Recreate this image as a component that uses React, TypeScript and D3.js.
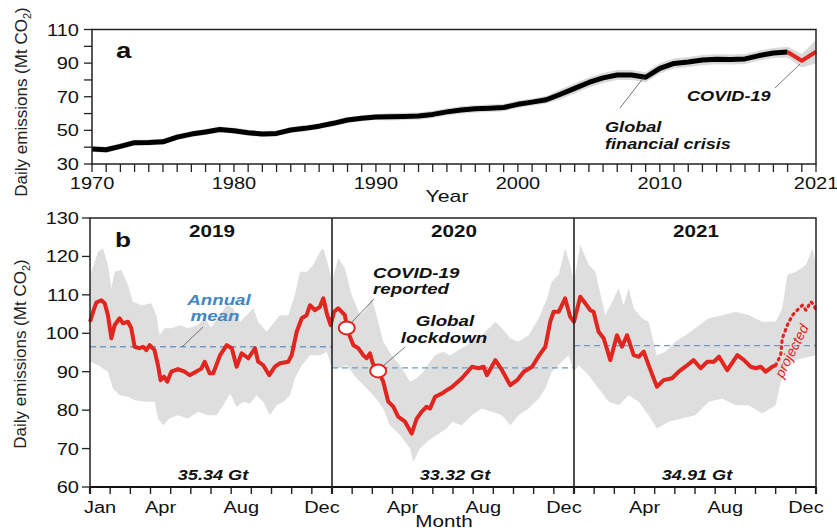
import React from "react";
import * as d3 from "d3";

// ---------- Panel a: annual data ----------
const yearsA = d3.range(1970, 2022);
const emissionsA = [
  38.9, 38.5, 40.5, 42.7, 42.8, 43.2, 46.0, 47.8, 49.0, 50.5,
  49.8, 48.6, 47.9, 48.2, 50.2, 51.2, 52.5, 54.2, 56.2, 57.2,
  58.0, 58.1, 58.3, 58.5, 59.5, 61.0, 62.1, 62.8, 63.2, 63.6,
  65.5, 66.8, 68.2, 71.5, 75.0, 78.5, 81.2, 82.9, 82.9, 81.6,
  86.9, 89.8, 90.7, 91.8, 92.3, 92.2, 92.5, 94.5, 96.0, 96.6,
  91.4, 96.8,
];
const uncertaintyA = [
  1.8, 1.8, 1.8, 1.8, 1.8, 1.8, 1.8, 1.8, 1.8, 1.8,
  1.8, 1.8, 1.8, 1.8, 1.8, 1.8, 1.8, 1.8, 1.8, 1.8,
  1.8, 2.2, 2.2, 2.2, 2.2, 2.2, 2.2, 2.2, 2.2, 2.2,
  2.2, 2.2, 2.2, 3.0, 3.0, 3.0, 3.0, 3.0, 3.0, 3.0,
  3.0, 3.0, 3.0, 3.0, 3.0, 3.0, 3.0, 3.0, 3.0, 3.2,
  4.0, 7.0,
];
const yTicksA = [30, 40, 50, 60, 70, 80, 90, 100, 110];
const yLabelsA = [30, 50, 70, 90, 110];
const xLabelsA = [1970, 1980, 1990, 2000, 2010, 2021];

// ---------- Panel b: daily data (month index from Jan 2019) ----------
const lineMonths = [
  0, 0.15, 0.31, 0.56, 0.73, 0.89, 1.06, 1.22, 1.47, 1.64, 1.88, 2.05, 2.21, 2.46, 2.63, 2.79, 2.96, 3.2, 3.37, 3.5,
  3.67, 3.83, 4.03, 4.36, 4.69, 4.94, 5.19, 5.52, 5.69, 5.93, 6.11, 6.45, 6.78, 7.03, 7.27, 7.52, 7.85, 8.18, 8.34, 8.59,
  8.89, 9.17, 9.42, 9.83, 10.0, 10.25, 10.5, 10.74, 10.91, 11.16, 11.4, 11.57, 11.74, 11.93,
  12.1, 12.31, 12.48, 12.64, 12.75, 12.89, 13.06, 13.31, 13.55, 13.72, 13.88, 14.02, 14.29, 14.54, 14.79, 15.04, 15.28, 15.62, 15.95,
  16.2, 16.45, 16.69, 16.86, 17.11, 17.44, 17.69, 17.95, 18.44, 18.94, 19.27, 19.52, 19.68, 20.1, 20.43, 20.84, 21.18, 21.51, 21.92,
  22.28, 22.58, 22.82, 22.99, 23.24, 23.56, 23.81, 24.0,
  24.31, 24.56, 24.81, 24.97, 25.22, 25.47, 25.8, 26.13, 26.38, 26.63, 26.96, 27.21, 27.46, 27.7, 28.11, 28.44, 28.86, 29.19, 29.52,
  29.93, 30.28, 30.61, 30.94, 31.19, 31.6, 32.1, 32.43, 32.76, 33.01, 33.26, 33.51, 33.84, 34.0,
];
const lineValues = [
  103, 105.5, 108, 108.6, 107.8, 104.7, 98.7, 102.1, 103.9, 102.6, 103.0, 101.3, 96.5, 96.1, 96.5, 95.6, 96.9, 95.6, 91.7, 87.8,
  88.7, 87.4, 90.0, 90.7, 90.0, 89.1, 89.8, 90.8, 92.6, 89.6, 89.6, 94.3, 96.9, 96.1, 91.3, 94.8, 93.5, 96.1, 92.6, 91.7,
  89.1, 91.3, 92.2, 92.6, 94.3, 100.4, 103.9, 104.7, 107.3, 106.0, 106.9, 109.1, 105.2, 102.1,
  105.6, 106.5, 105.6, 104.7, 101.4, 99.1, 96.9, 96.1, 94.3, 93.5, 94.8, 92.2, 90.2, 87.4, 82.2, 80.9, 78.3, 77.0, 73.9,
  77.8, 79.6, 80.9, 80.4, 83.5, 84.3, 85.2, 86.0, 88.3, 91.3, 90.9, 91.3, 89.1, 93.0, 90.4, 86.5, 87.8, 90.0, 91.3,
  94.3, 96.5, 103.0, 105.6, 105.6, 109.1, 104.3, 103.0,
  109.5, 107.8, 106.0, 105.6, 100.4, 98.7, 93.0, 99.5, 96.5, 99.5, 94.3, 93.9, 95.2, 91.7, 86.1, 87.8, 88.3, 90.0, 91.3,
  93.0, 90.9, 92.6, 92.6, 93.9, 90.4, 94.3, 93.0, 91.3, 90.9, 91.3, 90.0, 91.3, 91.7,
];
const projMonths = [34.0, 34.25, 34.33, 34.58, 34.83, 35.16, 35.33, 35.5, 35.75, 35.92, 36.0];
const projValues = [91.7, 94.3, 98.7, 102.1, 104.7, 106.5, 107.3, 106.0, 108.2, 107.3, 105.6];

const upperMonths = [
  0, 0.4, 0.64, 0.89, 1.06, 1.22, 1.55, 1.88, 2.13, 2.54, 3.04, 3.29, 3.45, 3.7, 4.03, 4.45, 4.86, 5.35, 5.69, 6.0,
  6.45, 6.78, 7.1, 7.44, 7.77, 8.1, 8.34, 8.76, 9.01, 9.42, 9.83, 10.16, 10.41, 10.74, 11.07, 11.4, 11.57, 11.81, 12.0,
  12.31, 12.64, 12.97, 13.39, 13.72, 13.97, 14.21, 14.54, 14.96, 15.37, 15.87, 16.2, 16.53, 16.86, 17.11, 17.52, 17.85,
  18.44, 18.94, 19.43, 20.1, 20.43, 20.84, 21.25, 21.75, 22.25, 22.66, 22.9, 23.24, 23.56, 23.81, 24.0,
  24.31, 24.73, 25.06, 25.55, 25.89, 26.22, 26.46, 26.71, 26.96, 27.37, 27.7, 28.11, 28.53, 29.02, 29.52, 30.01,
  30.68, 31.35, 32.01, 32.67, 33.33, 34.0, 34.33, 34.58, 35.0, 35.5, 35.83, 36.0,
];
const upperValues = [
  115, 121.2, 122.1, 117.8, 111.7, 116, 116.5, 112.6, 108.2, 107.3, 107.8, 104.7, 99.5, 101.3, 101.3, 102.1, 101.3, 102.1, 103.9, 101.5,
  104.7, 107.3, 106.5, 103.0, 104.7, 106.5, 103.0, 100.4, 102.1, 104.7, 104.7, 110.0, 116.0, 116.0, 117.8, 121.2, 122.1, 117.8, 113.4,
  119.5, 116.9, 110.0, 104.7, 106.5, 109.1, 104.7, 97.8, 94.3, 91.7, 87.4, 88.3, 90.0, 92.6, 94.3, 95.2, 94.3,
  96.1, 97.8, 99.5, 103.0, 101.3, 98.7, 97.8, 99.5, 103.9, 109.1, 113.4, 115.2, 122.1, 117.8, 113.4,
  123.0, 117.8, 116.0, 104.7, 108.2, 111.7, 107.3, 111.7, 106.5, 103.9, 103.0, 94.3, 95.2, 97.8, 99.5, 101.3,
  103.9, 104.7, 105.6, 104.7, 103.0, 103.0, 106.5, 115.2, 116.0, 117.8, 122.1, 117.8,
];
const lowerMonths = [
  0, 0.4, 0.89, 1.14, 1.47, 1.88, 2.21, 2.71, 3.21, 3.37, 3.62, 3.95, 4.36, 4.86, 5.35, 5.85, 6.28, 6.61, 6.94, 7.27,
  7.6, 7.93, 8.26, 8.59, 8.92, 9.26, 9.59, 9.92, 10.16, 10.5, 10.91, 11.4, 11.74, 12.0,
  12.39, 12.73, 13.22, 13.72, 14.05, 14.54, 14.87, 15.37, 15.87, 16.03, 16.36, 16.69, 17.19, 17.69, 17.95,
  18.44, 18.94, 19.43, 19.93, 20.43, 20.84, 21.25, 21.75, 22.25, 22.58, 22.9, 23.4, 23.73, 24.0,
  24.23, 24.73, 25.22, 25.72, 26.22, 26.71, 27.21, 27.7, 28.11, 28.69, 29.35, 30.01, 30.68, 31.35, 32.01, 32.67,
  33.33, 34.0, 34.25, 34.66, 35.33, 36.0,
];
const lowerValues = [
  92.6, 91.7, 90.0, 85.6, 83.9, 83.5, 82.6, 82.2, 82.2, 77.8, 76.1, 77.8, 78.7, 77.8, 79.6, 78.7, 78.7, 81.3, 84.3, 80.9,
  82.2, 81.7, 83.9, 82.2, 78.7, 81.3, 82.2, 83.9, 88.3, 91.7, 94.3, 94.3, 95.2, 90.9,
  90.9, 91.7, 88.3, 85.6, 83.9, 80.4, 76.1, 73.5, 70.0, 66.5, 70.0, 71.7, 73.5, 75.2, 77.0,
  76.1, 78.7, 80.4, 79.6, 78.7, 76.1, 78.7, 80.4, 83.0, 85.6, 90.0, 92.6, 94.3, 90.0,
  91.7, 89.1, 85.6, 82.2, 81.3, 83.9, 82.2, 78.7, 75.2, 77.0, 77.8, 78.7, 82.2, 83.0, 81.3, 81.3,
  79.1, 81.3, 87.4, 92.6, 93.5, 94.3,
];

const yearLabelsB = ["2019", "2020", "2021"];
const yearTotalsB = ["35.34 Gt", "33.32 Gt", "34.91 Gt"];
const annualMeansB = [96.5, 91.0, 96.8];
const yTicksB = [60, 70, 80, 90, 100, 110, 120, 130];
const monthLabelNames = ["Jan", "Apr", "Aug", "Dec", "Apr", "Aug", "Dec", "Apr", "Aug", "Dec"];
const monthLabelPos = [0.5, 3.5, 7.5, 11.5, 15.5, 19.5, 23.5, 27.5, 31.5, 35.5];
const eventMonths = [12.73, 14.29];
const eventValues = [101.4, 90.2];

const SX = 1.25;
const FONT = "'Liberation Sans', Arial, Helvetica, sans-serif";
const RED = "#e1251f";
const BLUE_TXT = "#3f86c2";
const BLUE_DASH = "#6f9cc6";

function T(props: any) {
  const { x, y, size = 16, weight = "normal", italic = false, anchor = "start", fill = "#111", children } = props;
  return (
    <text
      transform={`translate(${x},${y}) scale(${SX},1)`}
      fontFamily={FONT}
      fontSize={size}
      fontWeight={weight}
      fontStyle={italic ? "italic" : "normal"}
      textAnchor={anchor}
      fill={fill}
    >
      {children}
    </text>
  );
}

function YLabel({ x, y }: { x: number; y: number }) {
  return (
    <text transform={`translate(${x},${y}) rotate(-90)`} fontFamily={FONT} fontSize={17} textAnchor="middle" fill="#222">
      Daily emissions (Mt CO<tspan fontSize={11} dy={4}>2</tspan><tspan dy={-4}>)</tspan>
    </text>
  );
}

export default function App() {
  // Panel a
  const xA = d3.scaleLinear().domain([1970, 2021]).range([92, 816]);
  const yA = d3.scaleLinear().domain([30, 110]).range([164, 29.5]);
  const ptsA = yearsA.map((yr, i) => ({ yr, v: emissionsA[i], u: uncertaintyA[i] }));
  const areaA = d3.area<any>().x((d) => xA(d.yr)).y0((d) => yA(d.v - d.u)).y1((d) => yA(d.v + d.u));
  const lineA = d3.line<any>().x((d) => xA(d.yr)).y((d) => yA(d.v));
  const blackA = ptsA.filter((d) => d.yr <= 2019);
  const redA = ptsA.filter((d) => d.yr >= 2019);

  // Panel b
  const xB = d3.scaleLinear().domain([0, 36]).range([90, 816]);
  const yB = d3.scaleLinear().domain([60, 130]).range([487, 218]);
  const lineB = d3.line<[number, number]>().x((d) => xB(d[0])).y((d) => yB(d[1]));
  const mainPts: [number, number][] = lineMonths.map((m, i) => [m, lineValues[i]]);
  const projPts: [number, number][] = projMonths.map((m, i) => [m, projValues[i]]);
  const bandPts: [number, number][] = [
    ...upperMonths.map((m, i) => [m, upperValues[i]] as [number, number]),
    ...lowerMonths.map((m, i) => [m, lowerValues[i]] as [number, number]).reverse(),
  ];
  const bandPath = lineB(bandPts) + "Z";
  const monthTicks = d3.range(0, 37);

  return (
    <svg width={837} height={532} style={{ position: "absolute", left: 0, top: 0, background: "#fff" }}>
      {/* ===== Panel a ===== */}
      <path d={areaA(ptsA) || ""} fill="#d9d9d9" />
      <path d={lineA(blackA) || ""} fill="none" stroke="#000" strokeWidth={5} strokeLinejoin="round" />
      <path d={lineA(redA) || ""} fill="none" stroke={RED} strokeWidth={4} strokeLinejoin="round" />
      <rect x={92} y={29.5} width={724} height={134.5} fill="none" stroke="#222" strokeWidth={1.5} />
      {yTicksA.map((v) => (
        <line key={"ya" + v} x1={84} x2={92} y1={yA(v)} y2={yA(v)} stroke="#222" strokeWidth={1.3} />
      ))}
      {yLabelsA.map((v) => (
        <T key={"yla" + v} x={79} y={yA(v) + 6} size={16} anchor="end">{v}</T>
      ))}
      {yearsA.map((yr) => (
        <line key={"xa" + yr} x1={xA(yr)} x2={xA(yr)} y1={164} y2={172} stroke="#222" strokeWidth={1.3} />
      ))}
      {xLabelsA.map((yr) => (
        <T key={"xla" + yr} x={xA(yr)} y={189} size={16} anchor="middle">{yr}</T>
      ))}
      <T x={447} y={202} size={17} anchor="middle">Year</T>
      <YLabel x={27} y={102} />
      <T x={116} y={58} size={22} weight="bold">a</T>
      <line x1={644} y1={77} x2={620} y2={108} stroke="#555" strokeWidth={0.8} />
      <T x={605} y={132} size={14.5} weight="bold" italic>Global</T>
      <T x={605} y={149} size={14.5} weight="bold" italic>financial crisis</T>
      <line x1={800} y1={64} x2={775} y2={88} stroke="#555" strokeWidth={0.8} />
      <T x={687} y={101} size={14.5} weight="bold" italic>COVID-19</T>

      {/* ===== Panel b ===== */}
      <path d={bandPath} fill="#dedede" />
      {annualMeansB.map((v, i) => (
        <line key={"am" + i} x1={xB(i * 12)} x2={xB(i * 12 + 12)} y1={yB(v)} y2={yB(v)} stroke={BLUE_DASH} strokeWidth={1.3} strokeDasharray="6,4" />
      ))}
      <path d={lineB(mainPts) || ""} fill="none" stroke={RED} strokeWidth={4} strokeLinejoin="round" />
      <path d={lineB(projPts) || ""} fill="none" stroke={RED} strokeWidth={3.2} strokeLinecap="round" strokeDasharray="1.5,4.5" />
      {eventMonths.map((m, i) => (
        <ellipse key={"ev" + i} cx={xB(m)} cy={yB(eventValues[i])} rx={8} ry={6.5} fill="#fff" stroke={RED} strokeWidth={2} />
      ))}
      <rect x={90} y={218} width={726} height={269} fill="none" stroke="#222" strokeWidth={1.5} />
      <line x1={90} x2={816} y1={487} y2={487} stroke="#111" strokeWidth={2.2} />
      {[12, 24].map((m) => (
        <line key={"sep" + m} x1={xB(m)} x2={xB(m)} y1={218} y2={487} stroke="#222" strokeWidth={1.6} />
      ))}
      {yTicksB.map((v) => (
        <line key={"yb" + v} x1={82} x2={90} y1={yB(v)} y2={yB(v)} stroke="#222" strokeWidth={1.3} />
      ))}
      {yTicksB.map((v) => (
        <T key={"ylb" + v} x={79} y={yB(v) + 6} size={16} anchor="end">{v}</T>
      ))}
      {monthTicks.map((m) => (
        <line key={"mt" + m} x1={xB(m)} x2={xB(m)} y1={487} y2={494} stroke="#222" strokeWidth={m % 12 === 0 ? 2.2 : 1.4} />
      ))}
      {monthLabelNames.map((n, i) => (
        <T key={"ml" + i} x={xB(monthLabelPos[i])} y={513} size={16} anchor="middle">{n}</T>
      ))}
      <T x={444} y={527} size={16.5} anchor="middle">Month</T>
      <YLabel x={26} y={354} />
      <T x={115} y={247} size={21} weight="bold">b</T>
      {yearLabelsB.map((s, i) => (
        <T key={"yl" + i} x={xB(i * 12 + 6) + 1} y={237} size={16.5} weight="bold" anchor="middle">{s}</T>
      ))}
      {yearTotalsB.map((s, i) => (
        <T key={"yt" + i} x={xB(i * 12 + 6) + 2} y={480} size={14.5} weight="bold" italic anchor="middle">{s}</T>
      ))}
      {/* annotations */}
      <line x1={182} y1={347} x2={203} y2={327} stroke="#555" strokeWidth={0.8} />
      <T x={219} y={305} size={15} weight="bold" italic anchor="middle" fill={BLUE_TXT}>Annual</T>
      <T x={215} y={321} size={15} weight="bold" italic anchor="middle" fill={BLUE_TXT}>mean</T>
      <line x1={352} y1={322} x2={374} y2={299} stroke="#555" strokeWidth={0.8} />
      <T x={373} y={278} size={15} weight="bold" italic>COVID-19</T>
      <T x={373} y={294} size={15} weight="bold" italic>reported</T>
      <line x1={383} y1={366} x2={405} y2={347} stroke="#555" strokeWidth={0.8} />
      <T x={445} y={326} size={15} weight="bold" italic anchor="middle">Global</T>
      <T x={444} y={343} size={15} weight="bold" italic anchor="middle">lockdown</T>
      <text
        transform={`translate(${796},${353}) rotate(-63)`}
        fontFamily={FONT}
        fontSize={14}
        fontStyle="italic"
        textAnchor="middle"
        fill={RED}
      >
        projected
      </text>
    </svg>
  );
}
